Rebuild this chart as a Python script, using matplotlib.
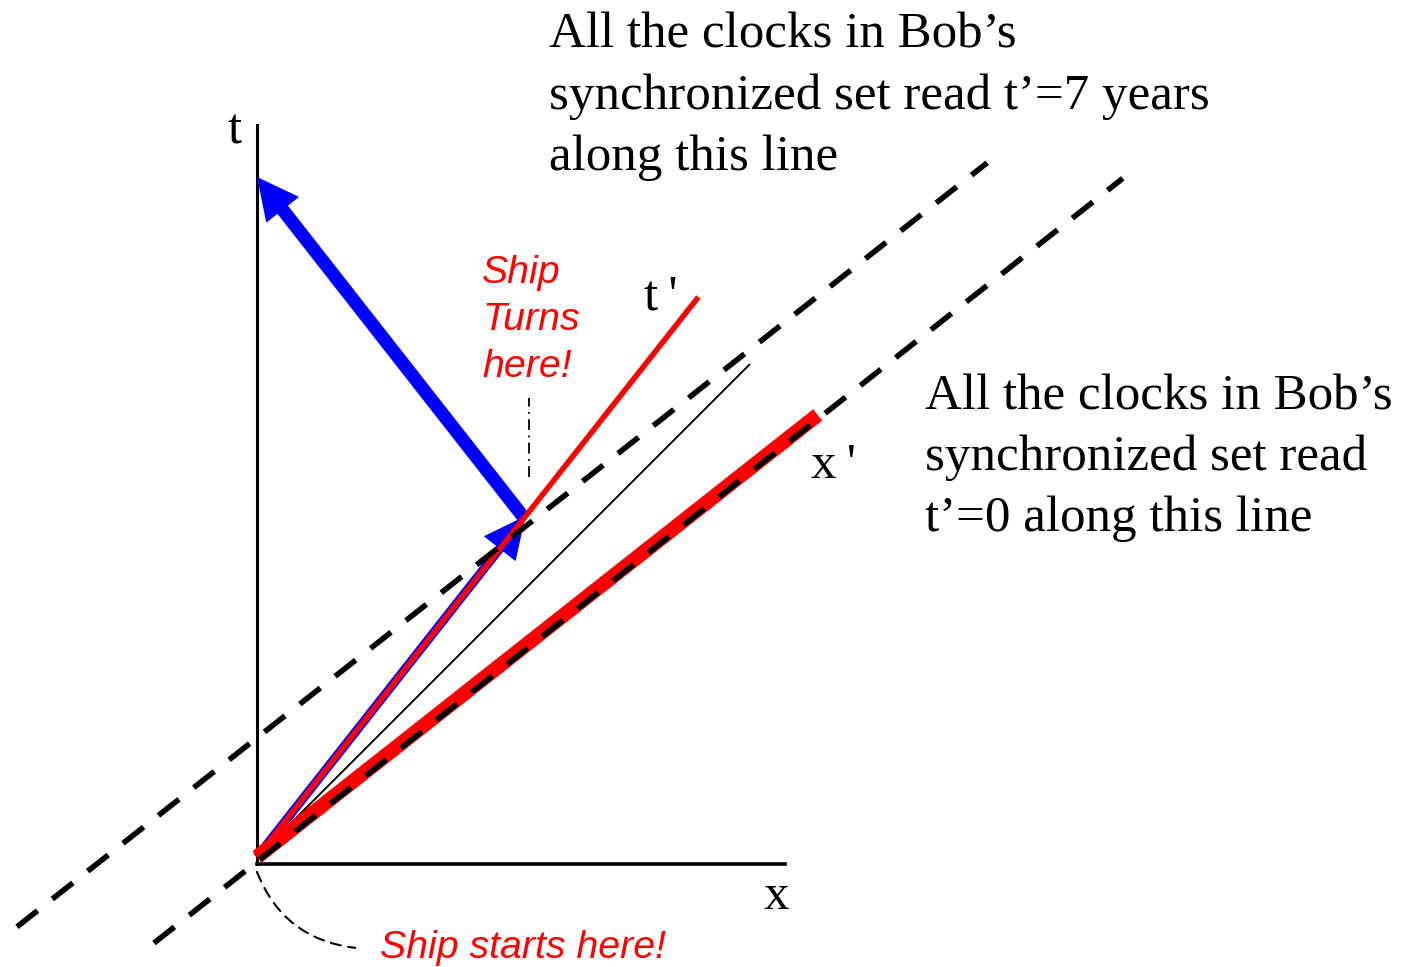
import matplotlib
matplotlib.use("Agg")
import matplotlib.pyplot as plt
from matplotlib.patches import FancyArrowPatch, ArrowStyle

# spacetime values (years / light years)
ship_out_x = [0.0, 3.96]
ship_out_t = [0.0, 5.03]
ship_back_x = [3.94, 0.0]
ship_back_t = [5.0, 10.03]
tprime_x = [0.0, 6.51]
tprime_t = [0.0, 8.26]
xprime_x = [0.0, 8.27]
xprime_t = [0.0, 6.52]
light_x = [0.0, 7.26]
light_t = [0.0, 7.26]
sim7_x = [-3.54, 10.77]      # t'=7 years line
sim7_t = [-1.03, 10.24]
sim0_x = [-1.52, 12.77]      # t'=0 line
sim0_t = [-1.27, 10.01]
t_axis_x = [0.0, 0.0]
t_axis_t = [-0.10, 10.80]
x_axis_x = [0.0, 7.79]
x_axis_t = [-0.10, -0.10]
turn_mark_x = [4.01, 4.01]
turn_mark_t = [5.60, 6.77]
start_mark = [(0.0, -0.22), (1.45, -1.34)]

top_note = ["All the clocks in Bob\u2019s",
            "synchronized set read t\u2019=7 years",
            "along this line"]
mid_note = ["All the clocks in Bob\u2019s",
            "synchronized set read",
            "t\u2019=0 along this line"]
turn_note = ["Ship", "Turns", "here!"]

W, H = 1414, 967
u = 67.8  # pixels per year
ox, oy = 257, 857


def px(x, y):
    return ((x - ox) / u, (oy - y) / u)


fig = plt.figure(figsize=(W / 100, H / 100), dpi=100)
ax = fig.add_axes([0, 0, 1, 1])
ax.set_xlim(-ox / u, (W - ox) / u)
ax.set_ylim(-(H - oy) / u, oy / u)
ax.axis("off")

serif = "Liberation Serif"
sans = "Liberation Sans"

# axes of the rest frame
ax.plot(t_axis_x, t_axis_t, color="black", lw=2.2, zorder=1)
ax.plot(x_axis_x, x_axis_t, color="black", lw=2.6, zorder=1)

# ship world line
ax.add_patch(FancyArrowPatch((ship_out_x[0], ship_out_t[0]), (ship_out_x[1], ship_out_t[1]),
                             arrowstyle=ArrowStyle.Simple(head_length=30, head_width=29, tail_width=6.5),
                             mutation_scale=1, color="blue", lw=0, shrinkA=0, shrinkB=0, zorder=2))
ax.add_patch(FancyArrowPatch((ship_back_x[0], ship_back_t[0]), (ship_back_x[1], ship_back_t[1]),
                             arrowstyle=ArrowStyle.Simple(head_length=30, head_width=30, tail_width=9.6),
                             mutation_scale=1, color="blue", lw=0, shrinkA=0, shrinkB=0, zorder=2))

ax.plot(tprime_x, tprime_t, color="red", lw=4, solid_capstyle="butt", zorder=3)
ax.plot(light_x, light_t, color="black", lw=1.4, zorder=4)
ax.plot(xprime_x, xprime_t, color="red", lw=10.5, solid_capstyle="butt", zorder=5)
ax.plot(sim7_x, sim7_t, color="black", lw=4, ls=(0, (4.7, 3.4)), dash_capstyle="butt", zorder=6)
ax.plot(sim0_x, sim0_t, color="black", lw=4, ls=(0, (4.7, 3.4)), dash_capstyle="butt", zorder=6)

ax.plot(turn_mark_x, turn_mark_t, color="black", lw=1.3, ls=(0, (6, 3, 1, 3)), zorder=6)
ax.add_patch(FancyArrowPatch(start_mark[0], start_mark[1], arrowstyle="-",
                             connectionstyle="arc3,rad=0.3", color="black", lw=1.5,
                             ls=(0, (5, 3.5)), shrinkA=0, shrinkB=0, zorder=6))

# labels
fs = 36.7
ax.text(*px(227, 143), "t", family=serif, fontsize=fs, va="baseline")
ax.text(*px(764, 909), "x", family=serif, fontsize=fs, va="baseline")
ax.text(*px(644, 310), "t\u2009'", family=serif, fontsize=fs, va="baseline")
ax.text(*px(811, 478), "x\u2009'", family=serif, fontsize=fs, va="baseline")

for i, line in enumerate(top_note):
    ax.text(*px(549, 48 + 61 * i), line, family=serif, fontsize=fs, va="baseline")
for i, line in enumerate(mid_note):
    ax.text(*px(925, 409 + 61 * i), line, family=serif, fontsize=fs, va="baseline")

for i, line in enumerate(turn_note):
    ax.text(*px(482, 283 + 47 * i), line, family=sans, style="italic", fontsize=28.3,
            color="red", va="baseline")
ax.text(*px(380, 958), "Ship starts here!", family=sans, style="italic", fontsize=28.3,
        color="red", va="baseline")

plt.savefig("out.png", dpi=100)
